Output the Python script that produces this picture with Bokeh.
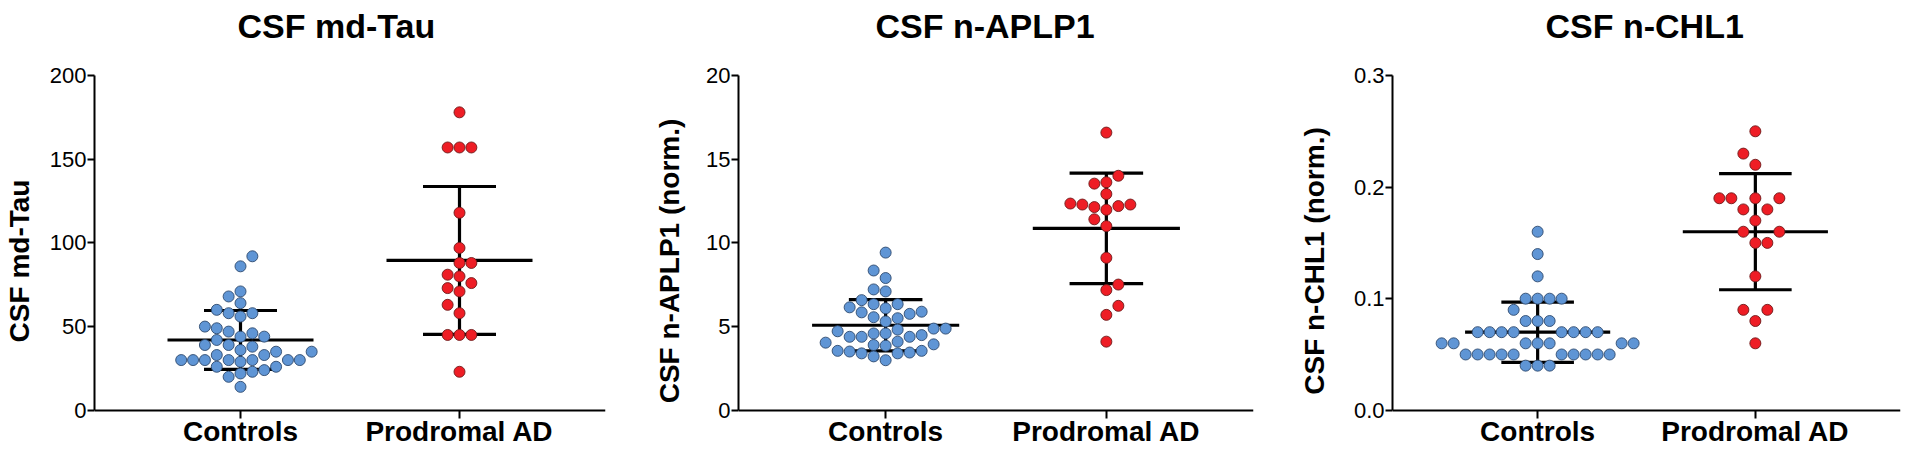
from bokeh.plotting import figure
from bokeh.layouts import row
from bokeh.models import (Range1d, FixedTicker, Title, PrintfTickFormatter,
                          ColumnDataSource)
from bokeh.embed import file_html
from bokeh.resources import INLINE

# ---------------- data ----------------
groups = ["Controls", "Prodromal AD"]
titles = ["CSF md-Tau", "CSF n-APLP1", "CSF n-CHL1"]
ylabels = ["CSF md-Tau", "CSF n-APLP1 (norm.)", "CSF n-CHL1 (norm.)"]

tau_controls = [92, 86, 71, 68, 64, 60, 58, 58, 56, 50, 49, 47, 46, 44, 44, 42, 39, 39,
                36, 38, 35, 35, 33, 33, 29, 30, 30, 30, 30, 30, 30, 30, 26, 26, 22, 23,
                24, 20, 14]
tau_prodromal = [178, 157, 157, 157, 118, 97, 88, 88, 81, 80, 73, 76, 71, 63, 58, 45, 45,
                 45, 23]
tau_mean = [42.0, 89.5]
tau_sd = [17.6, 44.2]
tau_ticks = [0, 50, 100, 150, 200]

aplp1_controls = [9.42, 8.35, 7.90, 7.10, 7.22, 6.58, 6.34, 6.34, 5.89, 6.15, 6.09, 5.85,
                  5.76, 5.50, 5.56, 5.31, 4.88, 4.88, 4.82, 4.72, 4.59, 4.59, 4.39, 4.49,
                  4.39, 4.39, 3.94, 4.04, 4.10, 3.90, 3.86, 3.51, 3.55, 3.55, 3.40, 3.45,
                  3.40, 3.22, 2.99]
aplp1_prodromal = [16.59, 14.01, 13.54, 13.62, 12.92, 12.14, 12.29, 12.29, 12.35, 11.98,
                   12.20, 11.41, 11.00, 9.11, 7.51, 7.18, 6.24, 5.70, 4.10]
aplp1_mean = [5.08, 10.87]
aplp1_sd = [1.53, 3.30]
aplp1_ticks = [0, 5, 10, 15, 20]

chl1_controls = [0.16, 0.14, 0.12, 0.10, 0.10, 0.10, 0.10, 0.09, 0.08, 0.08, 0.08,
                 0.07, 0.07, 0.07, 0.07, 0.07, 0.07, 0.07, 0.07,
                 0.06, 0.06, 0.06, 0.06, 0.06, 0.06, 0.06,
                 0.05, 0.05, 0.05, 0.05, 0.05, 0.05, 0.05, 0.05, 0.05, 0.05,
                 0.04, 0.04, 0.04]
chl1_prodromal = [0.25, 0.23, 0.22, 0.19, 0.19, 0.19, 0.19, 0.18, 0.18, 0.17, 0.16, 0.16,
                  0.15, 0.15, 0.12, 0.09, 0.09, 0.08, 0.06]
chl1_mean = [0.070, 0.160]
chl1_sd = [0.027, 0.052]
chl1_ticks = [0.0, 0.1, 0.2, 0.3]

# ---------------- styling / layout ----------------
FONT = "Liberation Sans"
FIG_W = 634
FIG_H = 446
TOP_H = 67          # title area above the frame
AXIS_H = 342        # pixel height of the value axis (0 .. max)
BELOW_H = FIG_H - TOP_H - AXIS_H   # room under y=0 for the category labels
CAT_X = [2, 5]
X_MAX = 7
DOT = 11
COLORS = ["#5f95d5", "#ee1d25"]
OUTLINES = ["#2e4a6e", "#6e1a1a"]


def swarm(values, xppu, yppu, spacing=12.0, mind=11.5):
    order = sorted(range(len(values)), key=lambda i: values[i])
    placed = []
    offs = [0.0] * len(values)
    for n, i in enumerate(order):
        ypx = values[i] * yppu
        sign = 1 if n % 2 == 0 else -1
        cands = [0]
        for j in range(1, 40):
            cands += [sign * j, -sign * j]
        xpx = 0.0
        for k in cands:
            xpx = k * spacing
            ok = True
            for (px, py) in placed:
                if (xpx - px) ** 2 + (ypx - py) ** 2 < mind ** 2:
                    ok = False
                    break
            if ok:
                break
        placed.append((xpx, ypx))
        offs[i] = xpx / xppu
    return offs


def make_panel(title, ylabel, ctrl, prod, means, sds, ticks, fmt, bl, br,
               label_standoff, title_offset):
    ymin, ymax = ticks[0], ticks[-1]
    yppu = AXIS_H / (ymax - ymin)
    p = figure(width=FIG_W, height=FIG_H,
               x_range=Range1d(0, X_MAX),
               y_range=Range1d(ymin - BELOW_H / yppu, ymax),
               min_border_left=bl, min_border_right=br, min_border_top=0,
               min_border_bottom=0, output_backend="svg", toolbar_location=None)
    # spacer between title and frame, then the title itself
    p.add_layout(Title(text=" ", text_font_size="10px", standoff=10), "above")
    p.add_layout(Title(text=title, align="left", offset=title_offset, standoff=12,
                       vertical_align="top",
                       text_font_size="34px", text_font=FONT, text_font_style="bold",
                       text_color="black"), "above")
    p.xgrid.visible = False
    p.ygrid.visible = False
    p.outline_line_color = None
    p.background_fill_color = "white"
    p.border_fill_color = "white"

    frame_w = FIG_W - bl - br
    xppu = frame_w / X_MAX

    # mean and SD bars
    for g in range(2):
        c = CAT_X[g]
        m, s = means[g], sds[g]
        p.segment(x0=[c - 1.0], y0=[m], x1=[c + 1.0], y1=[m], line_color="black",
                  line_width=3.2)
        p.segment(x0=[c - 0.5, c - 0.5, c], y0=[m + s, m - s, m - s],
                  x1=[c + 0.5, c + 0.5, c], y1=[m + s, m - s, m + s],
                  line_color="black", line_width=3.2)

    for g, vals in enumerate([ctrl, prod]):
        offs = swarm(vals, xppu, yppu)
        src = ColumnDataSource(dict(x=[CAT_X[g] + o for o in offs], y=vals))
        p.scatter("x", "y", source=src, marker="circle", size=DOT,
                  fill_color=COLORS[g], line_color=OUTLINES[g], line_width=0.9)

    # value axis
    ya = p.yaxis[0]
    ya.ticker = FixedTicker(ticks=ticks)
    ya.bounds = (ymin, ymax)
    if fmt:
        ya.formatter = PrintfTickFormatter(format=fmt)
    ya.major_tick_out = 7
    ya.major_tick_in = 0
    ya.minor_tick_out = 0
    ya.minor_tick_in = 0
    ya.major_label_standoff = 1
    ya.major_label_text_font = FONT
    ya.major_label_text_font_size = "22px"
    ya.major_label_text_color = "black"
    ya.axis_line_width = 2
    ya.major_tick_line_width = 2
    ya.axis_label = ylabel
    ya.axis_label_text_font = FONT
    ya.axis_label_text_font_size = "28px"
    ya.axis_label_text_font_style = "bold"
    ya.axis_label_text_color = "black"
    ya.axis_label_standoff = label_standoff

    # category axis, sitting on y = 0
    xa = p.xaxis[0]
    xa.fixed_location = ymin
    xa.ticker = FixedTicker(ticks=CAT_X)
    xa.major_label_overrides = {CAT_X[0]: groups[0], CAT_X[1]: groups[1]}
    xa.major_tick_out = 8
    xa.major_tick_in = 0
    xa.minor_tick_out = 0
    xa.minor_tick_in = 0
    xa.major_label_standoff = -2
    xa.major_label_text_font = FONT
    xa.major_label_text_font_size = "28px"
    xa.major_label_text_font_style = "bold"
    xa.major_label_text_color = "black"
    xa.axis_line_width = 2
    xa.major_tick_line_width = 2
    return p


p1 = make_panel(titles[0], ylabels[0], tau_controls, tau_prodromal, tau_mean, tau_sd,
                tau_ticks, None, 88, 29, 12, 143)
p2 = make_panel(titles[1], ylabels[1], aplp1_controls, aplp1_prodromal, aplp1_mean,
                aplp1_sd, aplp1_ticks, None, 104, 15, 18, 137)
p3 = make_panel(titles[2], ylabels[2], chl1_controls, chl1_prodromal, chl1_mean, chl1_sd,
                chl1_ticks, "%.1f", 124, 2, 21, 153)

layout = row(p1, p2, p3)
open("out.html", "w").write(file_html(layout, INLINE))
